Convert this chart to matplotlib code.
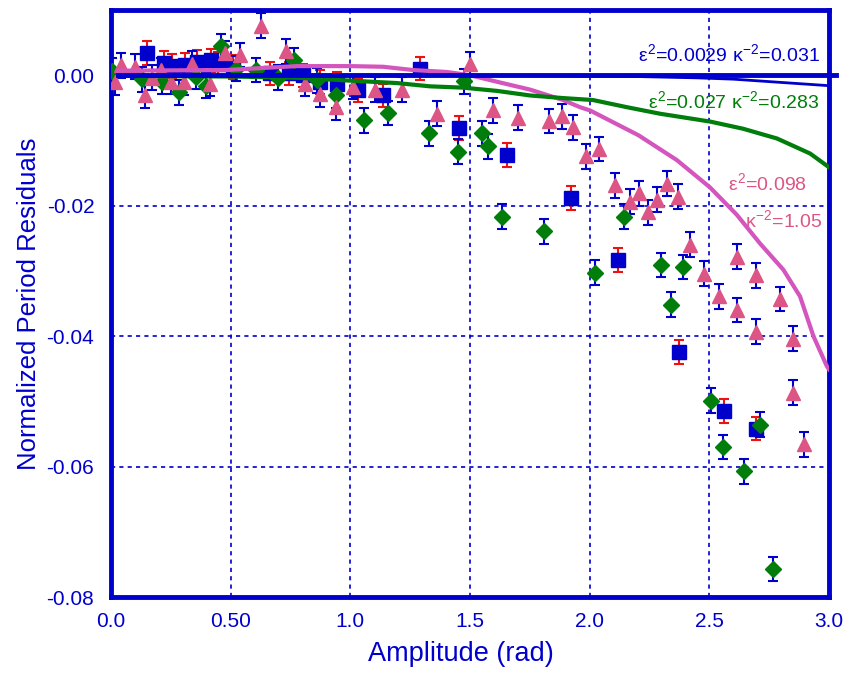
"""Normalized period residuals vs amplitude with model curves."""
import matplotlib
matplotlib.use("Agg")
import matplotlib.pyplot as plt

plt.rcParams["font.family"] = ["Liberation Sans", "DejaVu Sans"]
plt.rcParams["mathtext.fontset"] = "custom"
plt.rcParams["mathtext.rm"] = "Liberation Sans"
plt.rcParams["mathtext.it"] = "Liberation Sans"

BLUE = "#0000cc"
GREEN = "#007d0a"
PINK = "#dd5585"
MAGENTA = "#d355bd"
RED = "#ee1111"

# measured residuals, three data sets
sq_x = [0.152, 0.223, 0.254, 0.309, 0.358, 0.418, 0.448, 0.511, 0.664, 0.745,
        0.802, 0.873, 0.943, 1.033, 1.137, 1.291, 1.455, 1.653, 1.920, 2.119,
        2.374, 2.562, 2.695]
sq_y = [0.0034, 0.0019, 0.0014, 0.0016, 0.0020, 0.0023, 0.0018, 0.0013, 0.0003, 0.0003,
        0.0000, -0.0010, -0.0013, -0.0023, -0.0031, 0.0010, -0.0081, -0.0122, -0.0188, -0.0283,
        -0.0424, -0.0515, -0.0542]
sq_err = 0.0018

dia_x = [0.003, 0.128, 0.215, 0.284, 0.355, 0.397, 0.458, 0.524, 0.606, 0.699,
         0.763, 0.860, 0.939, 1.059, 1.159, 1.329, 1.448, 1.475, 1.549, 1.577,
         1.635, 1.811, 2.023, 2.144, 2.297, 2.339, 2.392, 2.506, 2.559, 2.646,
         2.712, 2.768]
dia_y = [0.0007, -0.0006, -0.0010, -0.0026, -0.0002, -0.0016, 0.0045, 0.0010, 0.0008, -0.0004,
         0.0023, -0.0008, -0.0031, -0.0069, -0.0058, -0.0089, -0.0117, -0.0009, -0.0089, -0.0109,
         -0.0217, -0.0239, -0.0303, -0.0217, -0.0291, -0.0352, -0.0294, -0.0499, -0.0570, -0.0607,
         -0.0536, -0.0757]
dia_err = 0.0019

tri_x = [0.017, 0.042, 0.099, 0.142, 0.170, 0.209, 0.251, 0.304, 0.337, 0.415,
         0.478, 0.538, 0.626, 0.731, 0.811, 0.873, 0.940, 1.013, 1.105, 1.215,
         1.361, 1.502, 1.595, 1.699, 1.830, 1.883, 1.929, 1.985, 2.037, 2.104,
         2.169, 2.206, 2.245, 2.280, 2.325, 2.371, 2.420, 2.478, 2.541, 2.614,
         2.615, 2.693, 2.694, 2.794, 2.851, 2.849, 2.894]
tri_y = [-0.0011, 0.0015, 0.0013, -0.0031, -0.0004, 0.0008, -0.0010, -0.0011, 0.0018, -0.0013,
         0.0034, 0.0031, 0.0076, 0.0037, -0.0013, -0.0029, -0.0049, -0.0018, -0.0022, -0.0022,
         -0.0059, 0.0017, -0.0054, -0.0065, -0.0070, -0.0063, -0.0080, -0.0124, -0.0113, -0.0169,
         -0.0194, -0.0181, -0.0210, -0.0191, -0.0166, -0.0186, -0.0260, -0.0304, -0.0339, -0.0278,
         -0.0360, -0.0307, -0.0393, -0.0343, -0.0404, -0.0487, -0.0566]
tri_err = 0.0019

# fitted model curves
blue_cx = [0.03, 1.5, 2.2, 2.45, 2.6, 2.8, 3.0]
blue_cy = [0.0, 0.0, -0.0002, -0.0004, -0.0006, -0.0011, -0.0016]

green_cx = [0.03, 0.51, 0.79, 0.986, 1.195, 1.333, 1.471, 1.613, 1.751, 1.889,
            2.014, 2.156, 2.294, 2.503, 2.641, 2.783, 2.921, 3.0]
green_cy = [-0.0001, -0.0002, -0.0004, -0.0008, -0.0012, -0.0017, -0.0019, -0.0024, -0.0031, -0.0035,
            -0.0038, -0.0049, -0.0059, -0.0071, -0.0082, -0.0097, -0.0120, -0.0141]

pink_cx = [0.029, 0.483, 0.776, 0.999, 1.137, 1.262, 1.404, 1.500, 1.613, 1.751,
           1.889, 1.960, 2.002, 2.204, 2.364, 2.503, 2.615, 2.712, 2.809, 2.879,
           2.935, 2.991, 3.0]
pink_cy = [0.0007, 0.0008, 0.0014, 0.0014, 0.0013, 0.0008, 0.0005, 0.0, -0.0010, -0.0022,
           -0.0038, -0.0049, -0.0054, -0.0092, -0.0130, -0.0172, -0.0214, -0.0258, -0.0298, -0.0339,
           -0.0400, -0.0446, -0.0451]

x_ticks = [0.0, 0.5, 1.0, 1.5, 2.0, 2.5, 3.0]
x_ticklabels = ["0.0", "0.50", "1.0", "1.5", "2.0", "2.5", "3.0"]
y_ticks = [0.0, -0.02, -0.04, -0.06, -0.08]
y_ticklabels = ["0.00", "-0.02", "-0.04", "-0.06", "-0.08"]

fig = plt.figure(figsize=(8.44, 6.73), dpi=100)
ax = fig.add_axes([0.1315, 0.1129, 0.8507, 0.8722])

eb = dict(fmt="none", elinewidth=1.5, capsize=3.5, capthick=1.5, zorder=2)
ax.errorbar(sq_x, sq_y, yerr=sq_err, ecolor=RED, **eb)
ax.errorbar(dia_x, dia_y, yerr=dia_err, ecolor=BLUE, **eb)
ax.errorbar(tri_x, tri_y, yerr=tri_err, ecolor=BLUE, **eb)

ax.plot(sq_x, sq_y, "s", color=BLUE, ms=10, mec=BLUE, zorder=3)
ax.plot(dia_x, dia_y, "D", color=GREEN, ms=8, mec=GREEN, zorder=3)
ax.plot(tri_x, tri_y, "^", color=PINK, ms=10.5, mec=PINK, zorder=3)

ax.plot(pink_cx, pink_cy, color=MAGENTA, lw=3, zorder=4)
ax.plot(green_cx, green_cy, color=GREEN, lw=3, zorder=4)
ax.plot([0.03, 3.03], [0.0, 0.0], color=BLUE, lw=3.5, zorder=5, clip_on=False)
ax.plot(blue_cx, blue_cy, color=BLUE, lw=2, zorder=5)

ax.text(2.96, 0.0033, r"$\varepsilon^2$=0.0029 $\kappa^{-2}$=0.031", color=BLUE,
        fontsize=14, ha="right", va="center")
ax.text(2.96, -0.0039, r"$\varepsilon^2$=0.027 $\kappa^{-2}$=0.283", color=GREEN,
        fontsize=14, ha="right", va="center")
ax.text(2.91, -0.0166, r"$\varepsilon^2$=0.098", color=PINK,
        fontsize=14, ha="right", va="center")
ax.text(2.97, -0.0222, r"$\kappa^{-2}$=1.05", color=PINK,
        fontsize=14, ha="right", va="center")

ax.set_xlim(0, 3.0)
ax.set_ylim(-0.08, 0.01)
ax.set_xticks(x_ticks)
ax.set_xticklabels(x_ticklabels)
ax.set_yticks(y_ticks)
ax.set_yticklabels(y_ticklabels)
ax.tick_params(length=0, labelsize=15, labelcolor=BLUE)
ax.tick_params(axis="x", pad=11)
ax.tick_params(axis="y", pad=12)
ax.grid(True, color=BLUE, linestyle=(0, (2.5, 2.5)), linewidth=1.2, zorder=1)
ax.set_axisbelow(True)
for s in ax.spines.values():
    s.set_color(BLUE)
    s.set_linewidth(3.5)

ax.set_xlabel("Amplitude (rad)", color=BLUE, fontsize=19.5, labelpad=6)
ax.xaxis.set_label_coords(0.487, -0.075)
ax.set_ylabel("Normalized Period Residuals", color=BLUE, fontsize=18.5, labelpad=4)

fig.savefig("out.png", dpi=100)
